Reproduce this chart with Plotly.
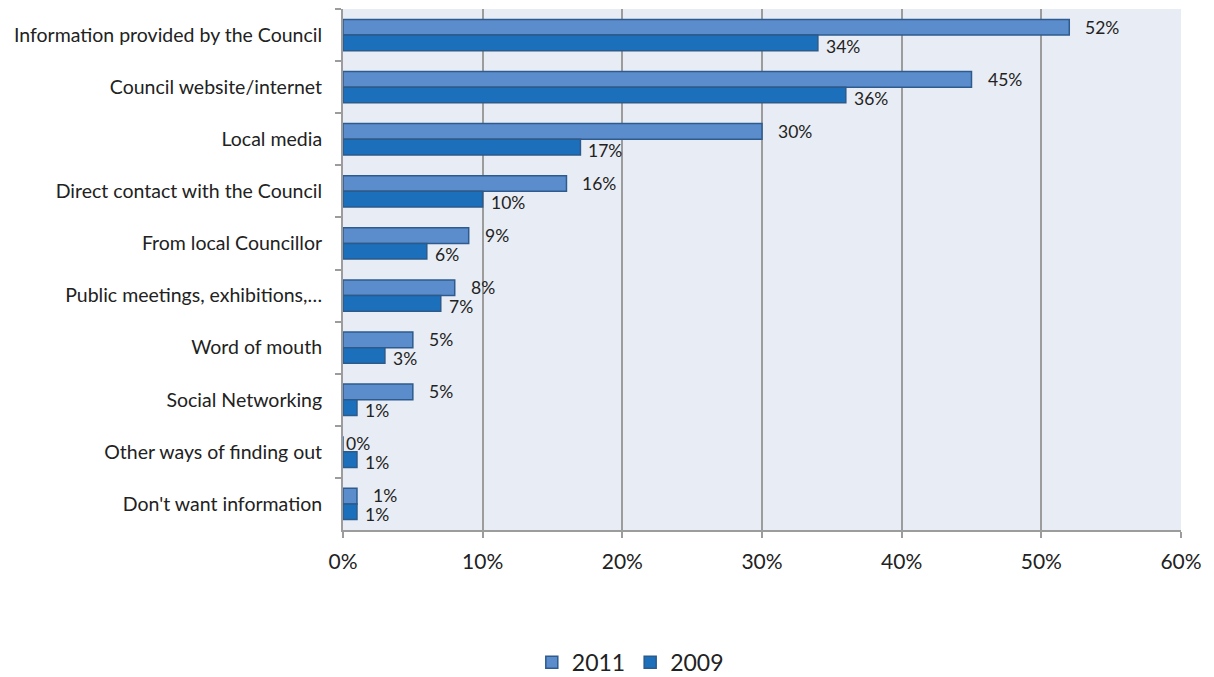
import plotly.graph_objects as go

categories = [
    "Information provided by the Council",
    "Council website/internet",
    "Local media",
    "Direct contact with the Council",
    "From local Councillor",
    "Public meetings, exhibitions,…",
    "Word of mouth",
    "Social Networking",
    "Other ways of finding out",
    "Don't want information",
]
values_2011 = [52, 45, 30, 16, 9, 8, 5, 5, 0, 1]
values_2009 = [34, 36, 17, 10, 6, 7, 3, 1, 1, 1]
x_ticks = [0, 10, 20, 30, 40, 50, 60]
x_tick_labels = [f"{t}%" for t in x_ticks]

FONT = "Lato, 'Open Sans', sans-serif"

fig = go.Figure()
fig.add_trace(go.Bar(
    y=categories, x=values_2011, orientation="h", name="2011",
    marker=dict(color="#5b8dcd", line=dict(color="#2e5b8e", width=1.5)),
))
fig.add_trace(go.Bar(
    y=categories, x=values_2009, orientation="h", name="2009",
    marker=dict(color="#1b6fbb", line=dict(color="#2c5a8a", width=1.5)),
))

annotations = []
for cat, v in zip(categories, values_2011):
    annotations.append(dict(
        x=v, y=cat, text=f"{v}%", showarrow=False, xanchor="left",
        xshift=14 if v > 0 else 1, yshift=8, font=dict(size=17.5, color="#222222", family=FONT),
    ))
for cat, v in zip(categories, values_2009):
    annotations.append(dict(
        x=v, y=cat, text=f"{v}%", showarrow=False, xanchor="left",
        xshift=6, yshift=-11, font=dict(size=17.5, color="#222222", family=FONT),
    ))

fig.update_layout(
    width=1206, height=669,
    margin=dict(l=335, r=33, t=1, b=147),
    barmode="group", bargap=0.4, bargroupgap=0,
    plot_bgcolor="#e8ecf4", paper_bgcolor="white",
    font=dict(family=FONT, color="#222222"),
    annotations=annotations,
    legend=dict(orientation="h", xref="container", yref="container",
                x=0.516, xanchor="center", y=0.022, yanchor="middle",
                font=dict(size=23, family=FONT, color="#222222"),
                traceorder="normal"),
    showlegend=True,
)
fig.update_xaxes(
    range=[0, 60], tickvals=x_ticks, ticktext=x_tick_labels,
    showgrid=True, gridcolor="#9c9c9c", gridwidth=2,
    showline=True, linecolor="#9c9c9c", linewidth=2,
    ticks="outside", ticklen=6, tickcolor="#9c9c9c", tickwidth=2,
    tickfont=dict(size=21, family=FONT, color="#222222"),
    ticklabelstandoff=6,
    zeroline=False, fixedrange=True, automargin=False,
)
fig.update_yaxes(
    autorange="reversed", showgrid=False,
    showline=True, linecolor="#9c9c9c", linewidth=2,
    ticks="outside", tickson="boundaries", ticklen=6, tickcolor="#9c9c9c", tickwidth=2,
    tickfont=dict(size=19.5, family=FONT, color="#222222"),
    ticklabelstandoff=15, automargin=False,
)

fig.write_html("out.html")
